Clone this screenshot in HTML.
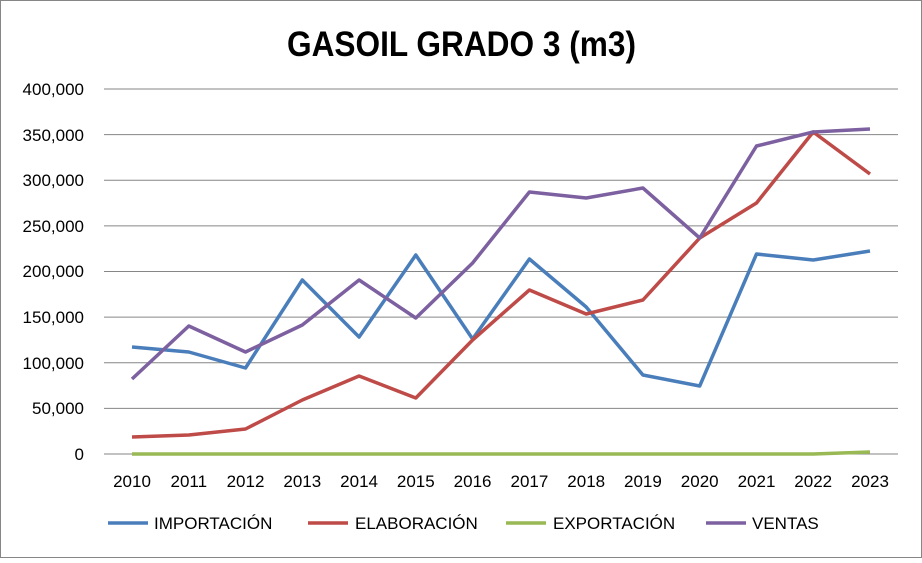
<!DOCTYPE html>
<html><head><meta charset="utf-8"><style>
body{margin:0;background:#fff}
svg text{font-family:"Liberation Sans",sans-serif}
</style></head><body>
<svg width="922" height="558" viewBox="0 0 922 558" xmlns="http://www.w3.org/2000/svg">
<rect x="0.5" y="0.5" width="921" height="557" fill="#fff" stroke="#868686"/>
<text x="287" y="56" textLength="349" lengthAdjust="spacingAndGlyphs" font-size="35" font-weight="bold" fill="#000">GASOIL GRADO 3 (m3)</text>
<g stroke="#868686" stroke-width="1">
<line x1="104" y1="89" x2="898" y2="89"/>
<line x1="104" y1="134.6" x2="898" y2="134.6"/>
<line x1="104" y1="180.3" x2="898" y2="180.3"/>
<line x1="104" y1="225.9" x2="898" y2="225.9"/>
<line x1="104" y1="271.5" x2="898" y2="271.5"/>
<line x1="104" y1="317.1" x2="898" y2="317.1"/>
<line x1="104" y1="362.8" x2="898" y2="362.8"/>
<line x1="104" y1="408.4" x2="898" y2="408.4"/>
<line x1="104" y1="454" x2="898" y2="454"/>
</g>
<g font-size="17" fill="#000" text-anchor="end">
<text x="84" y="95">400,000</text><text x="84" y="141">350,000</text><text x="84" y="186">300,000</text>
<text x="84" y="232">250,000</text><text x="84" y="277">200,000</text><text x="84" y="323">150,000</text>
<text x="84" y="369">100,000</text><text x="84" y="414">50,000</text><text x="84" y="460">0</text>
</g>
<g font-size="17" fill="#000" text-anchor="middle">
<text x="132" y="487">2010</text><text x="188.8" y="487">2011</text><text x="245.5" y="487">2012</text><text x="302.3" y="487">2013</text><text x="359.1" y="487">2014</text><text x="415.8" y="487">2015</text><text x="472.6" y="487">2016</text><text x="529.4" y="487">2017</text><text x="586.2" y="487">2018</text><text x="642.9" y="487">2019</text><text x="699.7" y="487">2020</text><text x="756.5" y="487">2021</text><text x="813.2" y="487">2022</text><text x="870" y="487">2023</text>
</g>
<g fill="none" stroke-width="3.5" stroke-linejoin="round">
<polyline stroke="#4a7ebb" points="132,347 188.8,352 245.5,368 302.3,280 359.1,337 415.8,255 472.6,339 529.4,259 586.2,307 642.9,375 699.7,386 756.5,254 813.2,260 870,251"/>
<polyline stroke="#be4b48" points="132,437 188.8,435 245.5,429 302.3,400 359.1,376 415.8,398 472.6,340 529.4,290 586.2,314 642.9,300 699.7,238 756.5,203 813.2,132 870,174"/>
<polyline stroke="#98b954" points="132,454 188.8,454 245.5,454 302.3,454 359.1,454 415.8,454 472.6,454 529.4,454 586.2,454 642.9,454 699.7,454 756.5,454 813.2,454 870,452"/>
<polyline stroke="#7d60a0" points="132,379 188.8,326 245.5,352 302.3,325 359.1,280 415.8,318 472.6,263 529.4,192 586.2,198 642.9,188 699.7,238 756.5,146 813.2,132 870,129"/>
</g>
<g stroke-width="3.5">
<line x1="108" y1="523" x2="148" y2="523" stroke="#4a7ebb"/>
<line x1="308" y1="523" x2="348" y2="523" stroke="#be4b48"/>
<line x1="506" y1="523" x2="546" y2="523" stroke="#98b954"/>
<line x1="706" y1="523" x2="746" y2="523" stroke="#7d60a0"/>
</g>
<g font-size="17" fill="#000">
<text x="154" y="529">IMPORTACIÓN</text><text x="355" y="529">ELABORACIÓN</text><text x="553" y="529">EXPORTACIÓN</text><text x="752" y="529">VENTAS</text>
</g>
</svg>
</body></html>
